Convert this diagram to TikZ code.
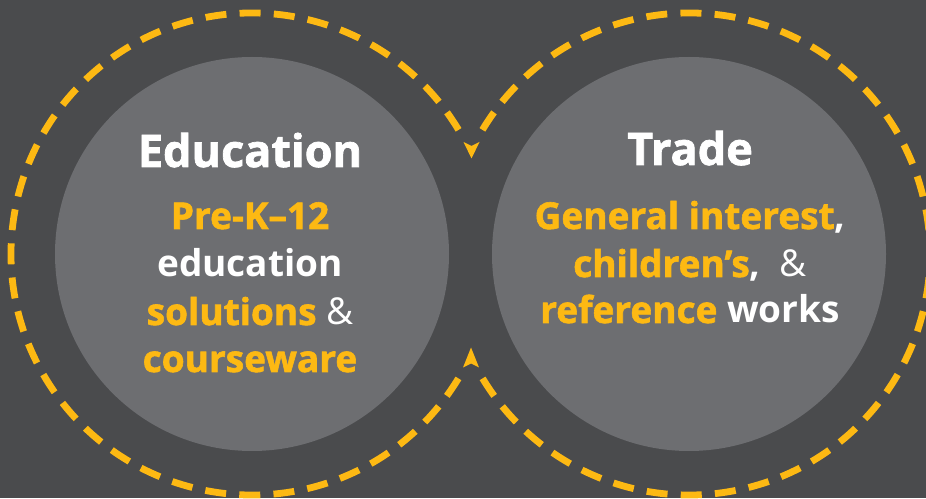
\documentclass[tikz,border=0pt]{standalone}
\usepackage{fontspec}
\setmainfont{Open Sans}[BoldFeatures={FakeBold=1.6}]
\newfontfamily\sbfont{Open Sans}
\newfontfamily\ampfont{Open Sans}
\definecolor{bgray}{HTML}{4A4B4D}
\definecolor{cgray}{HTML}{6D6E71}
\definecolor{gold}{HTML}{FDB913}
\tikzset{
  disc/.style={fill=cgray},
  loopline/.style={draw=gold, line width=6.8pt, line cap=butt, dash pattern=on 21pt off 13.23pt},
  tiphead/.style={fill=gold},
  heading/.style={anchor=base, text=white, font=\fontsize{45}{50}\selectfont\bfseries, inner sep=0pt},
  bodyline/.style={anchor=base, text=white, font=\fontsize{37}{43}\selectfont, inner sep=0pt},
}
\newcommand{\yl}[1]{\textcolor{gold}{\bfseries #1}}
\newcommand{\wh}[1]{\textcolor{white}{\sbfont\bfseries #1}}
\newcommand{\amp}{\textcolor{white}{\ampfont\&}}
\begin{document}
\begin{tikzpicture}[x=1pt,y=1pt]
\fill[bgray] (0,0) rectangle (926,498);
\useasboundingbox (0,0) rectangle (926,498);
% filled circles
\fill[disc] (252,244) circle[radius=197];
\fill[disc] (689,244) circle[radius=197];
% dashed loop arcs
\draw[loopline] (252,244) ++(31:241) arc[start angle=31, end angle=329, radius=241];
\draw[loopline] (689,244) ++(149:241) arc[start angle=149, end angle=-149, radius=241];
% arrowheads
\fill[tiphead] (463.5,356) -- (471.5,352) -- (479.5,356) -- (471.5,339.5) -- cycle;
\fill[tiphead] (463,130.5) -- (471,134.5) -- (479,130.5) -- (471,150.5) -- cycle;
% left texts
\node[heading] (edutitle) at (250,331) {Education};
\node[bodyline] (edu1) at (250,269) {\yl{Pre-K–12}};
\node[bodyline] (edu2) at (250,221) {\wh{education}};
\node[bodyline] (edu3) at (250,173) {\yl{solutions} \amp};
\node[bodyline] (edu4) at (250,126) {\yl{courseware}};
% right texts
\node[heading] (tradetitle) at (690,333) {Trade};
\node[bodyline] (trade1) at (690,269) {\yl{General interest}\wh{,}};
\node[bodyline] (trade2) at (690,221) {\yl{children’s}\wh{,}\ \ \amp};
\node[bodyline] (trade3) at (690,175) {\yl{reference} \wh{works}};
\end{tikzpicture}
\end{document}
